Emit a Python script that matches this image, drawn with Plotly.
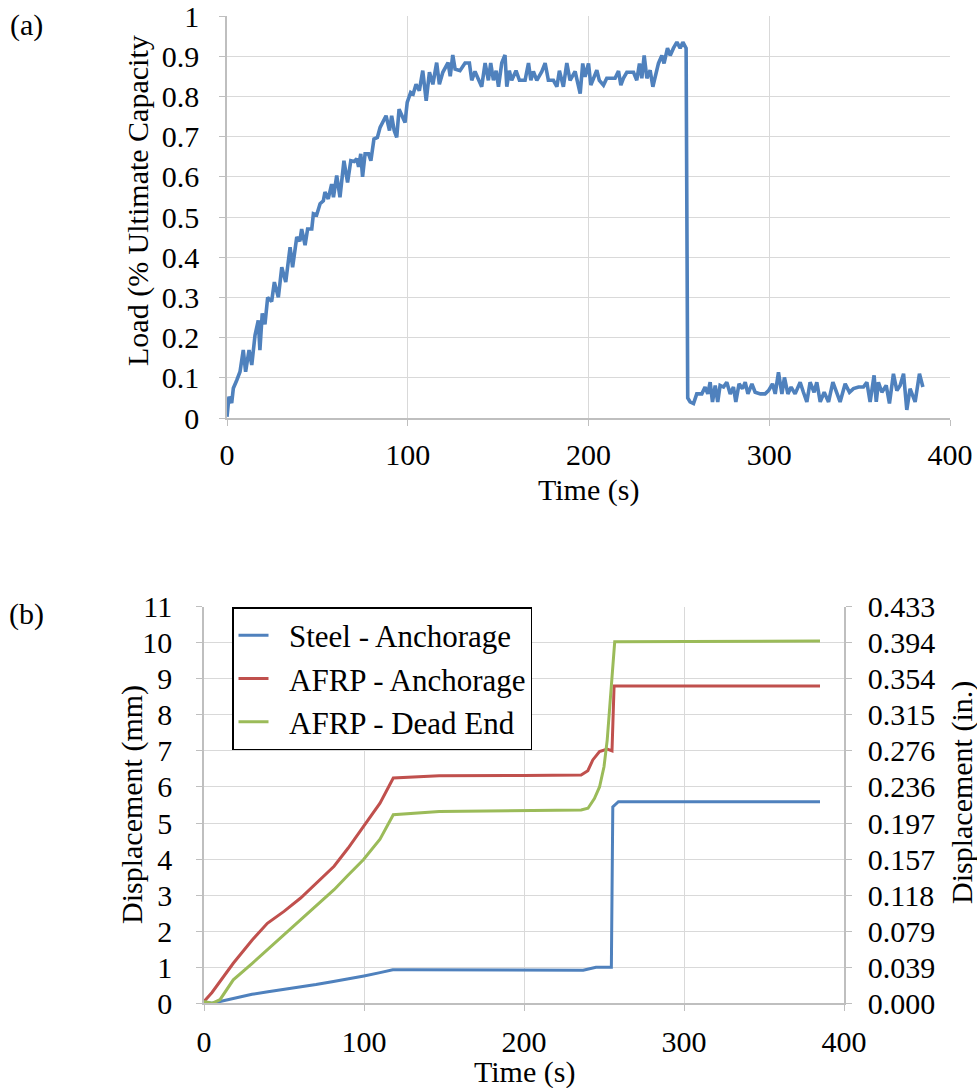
import plotly.graph_objects as go

# ---------------- data (a) ----------------
load_time = [0, 1.1, 2.6, 3.5, 5.4, 7.2, 9, 10.3, 12.2, 13.7, 15.5, 17.3, 18.2, 19.5, 21, 22.5, 24.7, 26.2,
             28.4, 30.3, 32.5, 34.9, 36.3, 38.6, 40.3, 41.3, 43.2, 44.6, 46.9, 47.8, 49.6, 51.5, 53.3, 54.2,
             56, 57.9, 58.9, 60.7, 62.5, 64.7, 66.7, 68.5, 70.4, 71.8, 72.8, 74, 75, 76.4, 78.3, 79.6, 81.3,
             83.2, 84.7, 86.5, 88, 89.9, 91.1, 92.5, 93.9, 95.2, 96.7, 98.5, 99.7, 101.6, 103, 104.6, 106.4,
             108.3, 110.2, 112, 113.9, 116, 117.5, 119.4, 122.3, 123.5, 124.9, 126.2,
             128.9, 131.7, 134.1, 135.4, 137.2, 139.6, 140.9, 142.8, 144.6, 145.9, 147.4, 148.9, 150.2, 152,
             153.8, 154.8, 156.2, 157.5, 159.9, 161.8, 164.9, 166.8, 168.1, 169.5, 171.4, 174.2, 176, 177.8,
             180.6, 182.5, 183.9, 186.1, 188, 189.8, 192.6, 195.4, 196.8, 198.1, 200, 201.3, 202.7, 204.6,
             206, 208.3, 210.1, 212.9, 214.7, 216.6, 217.9, 219.3, 221.2, 223, 224.9, 226.7, 228.2, 229.5,
             230.8, 232.3, 234.1, 235.6, 237.4, 238.7, 240.6, 241.8, 243.7, 245.2, 247, 248.9, 250.7, 252.2,
             254, 254.9, 256.2, 258.1, 259.9, 262.7, 264.5, 266, 267.3, 268.6, 270.1, 271.5, 272.8, 274.7,
             276.5, 278.4, 280.2, 281.5, 283.3, 285.2, 286.7, 288.2, 290.4, 292.2, 295.1, 297.7, 299.6,
             301.8, 303.3, 305.1, 307, 308.4, 310.3, 312.1, 314.3, 317.1, 318.9, 320.8, 322.6, 324.8, 326.3,
             328.2, 330.4, 332.8, 335.2, 337.4, 339.2, 342, 344.4, 346.6, 349.4, 352.1, 354, 355.8, 358,
             359.2, 360.4, 362.3, 364.7, 366.5, 368.7, 370.6, 372.4, 374.3, 376.1, 377.9, 380.7, 383.1, 385]
load_value = [0.003, 0.053, 0.037, 0.074, 0.094, 0.115, 0.169, 0.115, 0.169, 0.132, 0.206, 0.243, 0.169, 0.26,
              0.233, 0.30, 0.29, 0.338, 0.30, 0.375, 0.338, 0.425, 0.375, 0.45, 0.44, 0.47, 0.43, 0.47, 0.47,
              0.508, 0.505, 0.533, 0.54, 0.562, 0.545, 0.582, 0.549, 0.603, 0.549, 0.64, 0.586, 0.64, 0.638,
              0.645, 0.625, 0.657, 0.60, 0.657, 0.657, 0.64, 0.694, 0.698, 0.723, 0.74, 0.752, 0.715, 0.752,
              0.715, 0.698, 0.768, 0.755, 0.735, 0.785, 0.81, 0.806, 0.83, 0.814, 0.864, 0.789, 0.86, 0.83,
              0.884, 0.83, 0.86, 0.884, 0.85, 0.903, 0.868,
              0.864, 0.883, 0.883, 0.84, 0.862, 0.84, 0.824, 0.883, 0.84, 0.883, 0.84, 0.864, 0.824, 0.883,
              0.903, 0.824, 0.864, 0.84, 0.864, 0.84, 0.84, 0.883, 0.84, 0.862, 0.84, 0.862, 0.883, 0.84,
              0.84, 0.824, 0.864, 0.824, 0.883, 0.84, 0.862, 0.807, 0.882, 0.849, 0.882, 0.828, 0.845, 0.865,
              0.84, 0.828, 0.845, 0.845, 0.845, 0.863, 0.828, 0.845, 0.86, 0.86, 0.86, 0.84, 0.882, 0.845,
              0.902, 0.845, 0.865, 0.824, 0.86, 0.882, 0.902, 0.882, 0.92, 0.902, 0.92, 0.935, 0.92, 0.935,
              0.92, 0.05, 0.04, 0.036, 0.06, 0.06, 0.077, 0.06, 0.089, 0.04, 0.081, 0.04, 0.081, 0.077,
              0.089, 0.06, 0.077, 0.04, 0.085, 0.073, 0.089, 0.06, 0.085, 0.064, 0.06, 0.06, 0.068,
              0.085, 0.06, 0.114, 0.06, 0.101, 0.06, 0.077, 0.06, 0.089, 0.064, 0.04, 0.089, 0.064, 0.089,
              0.04, 0.064, 0.04, 0.089, 0.064, 0.04, 0.085, 0.064, 0.073, 0.077, 0.077, 0.089, 0.04, 0.106,
              0.04, 0.089, 0.064, 0.081, 0.036, 0.11, 0.068, 0.081, 0.11, 0.02, 0.073, 0.04, 0.11, 0.077]

# ---------------- data (b) ----------------
steel_time = [0, 5, 10, 20, 30, 40, 50, 60, 70, 80, 90, 100, 110, 118, 130, 170, 200, 237, 241, 245, 254.6,
              255.5, 259, 385]
steel_disp = [0.03, 0.0, 0.05, 0.15, 0.25, 0.32, 0.38, 0.45, 0.52, 0.6, 0.67, 0.76, 0.85, 0.93, 0.93, 0.92,
              0.91, 0.92, 0.96, 1.0, 1.0, 5.45, 5.59, 5.59]
afrp_anch_time = [0, 5, 18.3, 30, 39.6, 50, 60.4, 70, 81.3, 90, 99.6, 110, 118.3, 147, 200, 235.7, 239.9, 243,
                  247.2, 252, 255, 256.3, 385]
afrp_anch_disp = [0.05, 0.3, 1.11, 1.75, 2.22, 2.55, 2.92, 3.33, 3.8, 4.3, 4.9, 5.55, 6.25, 6.31, 6.32, 6.33,
                  6.45, 6.75, 6.98, 7.05, 7.0, 8.8, 8.8]
afrp_dead_time = [0, 5, 10, 18.3, 30, 39.6, 50, 60.4, 70, 81.3, 90, 99.6, 110, 118.3, 147, 200, 235.7, 240,
                  244, 247.2, 250, 252, 254.7, 256.7, 385]
afrp_dead_disp = [0.05, 0.0, 0.1, 0.65, 1.1, 1.48, 1.9, 2.31, 2.7, 3.15, 3.55, 3.98, 4.55, 5.23, 5.32, 5.35,
                  5.36, 5.41, 5.68, 6.0, 6.56, 7.3, 8.87, 10.03, 10.05]

series_names = ["Steel - Anchorage", "AFRP - Anchorage", "AFRP - Dead End"]
series_colors = ["#4f81bd", "#c0504d", "#9bbb59"]

mm_ticks = list(range(0, 12))
inch_labels = ["%.3f" % (v / 25.4) for v in mm_ticks]

W, H = 977, 1088
FONT = "Liberation Serif"
FS = 30
GRID = "#d9d9d9"
AXL = "#bfbfbf"


def px_x(p):
    return p / W


def px_y(p):
    return 1 - p / H


fig = go.Figure()
fig.add_trace(go.Scatter(x=load_time, y=load_value, mode="lines", line=dict(color="#4f81bd", width=3.6),
                         showlegend=False, xaxis="x", yaxis="y", hoverinfo="skip"))
for t, d, n, c in zip([steel_time, afrp_anch_time, afrp_dead_time],
                      [steel_disp, afrp_anch_disp, afrp_dead_disp], series_names, series_colors):
    fig.add_trace(go.Scatter(x=t, y=d, mode="lines", name="\u00a0\u00a0" + n, line=dict(color=c, width=3),
                             xaxis="x2", yaxis="y3", legendgroup=n))
# invisible copy so that the secondary (inch) axis is drawn
fig.add_trace(go.Scatter(x=steel_time, y=steel_disp, mode="lines", line=dict(width=0, color="rgba(0,0,0,0)"),
                         showlegend=False, hoverinfo="skip", xaxis="x2", yaxis="y4"))

tickf = dict(family=FONT, size=FS, color="black")
common = dict(showgrid=True, gridcolor=GRID, gridwidth=1.3, zeroline=False, showline=True, linecolor=AXL,
              linewidth=1.5, ticks="outside", ticklen=6, tickcolor=AXL, tickfont=tickf,
              ticklabeloverflow="allow")

fig.update_layout(
    width=W, height=H, margin=dict(l=0, r=0, t=0, b=0, autoexpand=False),
    paper_bgcolor="white", plot_bgcolor="white",
    font=dict(family=FONT, size=FS, color="black"),
    xaxis=dict(domain=[px_x(227), px_x(950)], range=[0, 400], tickvals=[0, 100, 200, 300, 400],
               anchor="y", ticklabelstandoff=3, **common),
    yaxis=dict(domain=[px_y(418), px_y(16)], range=[0, 1], dtick=0.1, anchor="x",
               ticklabelstandoff=14, **common),
    xaxis2=dict(domain=[px_x(204), px_x(844)], range=[0, 400], tickvals=[0, 100, 200, 300, 400],
                anchor="y3", ticklabelstandoff=5, **common),
    yaxis3=dict(domain=[px_y(1003.3), px_y(606.7)], range=[0, 11], tickvals=mm_ticks, anchor="x2",
                ticklabelstandoff=18, **common),
    yaxis4=dict(domain=[px_y(1003.3), px_y(606.7)], range=[0, 11], tickvals=mm_ticks, ticktext=inch_labels,
                overlaying="y3", side="right", anchor="x2", ticklabelstandoff=10,
                **{**common, "showgrid": False}),
    legend=dict(x=px_x(232), y=px_y(607), xanchor="left", yanchor="top", bgcolor="white",
                bordercolor="black", borderwidth=1.5, font=dict(family=FONT, size=31, color="black"),
                tracegroupgap=0, traceorder="grouped"),
)

ann = [
    dict(text="(a)", x=px_x(26), y=px_y(25)),
    dict(text="(b)", x=px_x(26), y=px_y(614)),
    dict(text="Load (% Ultimate Capacity", x=px_x(138), y=px_y(201), textangle=-90),
    dict(text="Time (s)", x=px_x(588), y=px_y(490)),
    dict(text="Displacement (mm)", x=px_x(132), y=px_y(805), textangle=-90),
    dict(text="Displacement (in.)", x=px_x(962), y=px_y(793), textangle=-90),
    dict(text="Time (s)", x=px_x(524), y=px_y(1072)),
]
for a in ann:
    fig.add_annotation(xref="paper", yref="paper", showarrow=False, xanchor="center", yanchor="middle",
                       font=dict(family=FONT, size=FS, color="black"), **a)

fig.write_html("out.html", config={"displayModeBar": False},
               post_script="document.body.style.margin='0';document.body.style.overflow='hidden';")
